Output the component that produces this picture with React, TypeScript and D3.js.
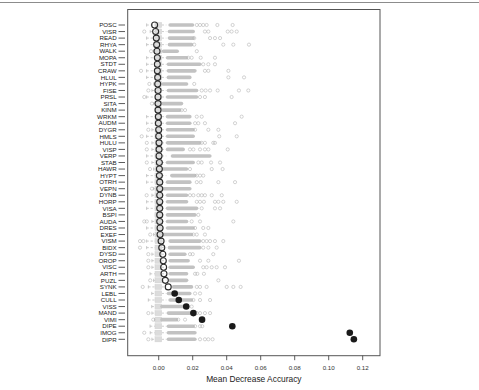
import React from 'react';
import * as d3 from 'd3';

// variable names, top to bottom
const labels = [
  'POSC', 'VISR', 'READ', 'RHYA', 'WALK', 'MOPA', 'STDT', 'CRAW', 'HLUL', 'HYPK',
  'FISE', 'PRSL', 'SITA', 'KINM', 'WRKM', 'AUDM', 'DYGR', 'HMLS', 'HULU', 'VISP',
  'VERP', 'STAB', 'HAWR', 'HYPT', 'OTRH', 'VEPN', 'DYNB', 'HORP', 'VISA', 'BSPI',
  'AUDA', 'DRES', 'EXEF', 'VISM', 'BIDX', 'DYSD', 'OROP', 'VISC', 'ARTH', 'PUZL',
  'SYNK', 'LEBL', 'CULL', 'VISS', 'MAND', 'VIMI', 'DIPE', 'IMOG', 'DIPR',
];

// observed mean decrease accuracy
const meanImp = [
  -0.0024, -0.0018, -0.0014, -0.0012, -0.001, -0.0008, -0.0008, -0.0008, -0.0006, -0.0006,
  -0.0004, -0.0004, -0.0004, -0.0004, -0.0002, -0.0002, 0, 0, 0.0002, 0.0002,
  0.0002, 0.0004, 0.0004, 0.0004, 0.0006, 0.0006, 0.0006, 0.0006, 0.0006, 0.0006,
  0.0006, 0.0008, 0.0008, 0.0014, 0.0018, 0.0024, 0.0027, 0.0029, 0.0031, 0.0039,
  0.0056, 0.0094, 0.0118, 0.0162, 0.0204, 0.0255, 0.0433, 0.1124, 0.1148,
];

// filled dot = significant
const significant = labels.map((_, i) => i >= 41);

// null distribution box (shadow) and whiskers
const boxLo = -0.0022;
const boxHi = 0.0018;
const whiskHi = 0.0045;
const whiskLo = [
  -0.0071, -0.005, -0.0071, -0.0071, -0.003, -0.0071, -0.0071, -0.0071, -0.0071, -0.003,
  -0.004, -0.0071, -0.003, -0.002, -0.0071, -0.0071, -0.004, -0.0071, -0.004, -0.004,
  -0.0071, -0.004, -0.003, -0.0071, -0.0071, -0.003, -0.004, -0.0071, -0.0071, -0.002,
  -0.004, -0.0071, -0.003, -0.0071, -0.0071, -0.004, -0.004, -0.004, -0.0051, -0.003,
  -0.0061, -0.0041, -0.0061, -0.0041, -0.004, -0.0025, -0.0051, -0.005, -0.004,
];

// dense run of outliers, start and end
const bandLo = [
  0.0066, 0.0062, 0.0062, 0.0062, 0.0027, 0.0051, 0.0056, 0.0056, 0.0056, 0.0024,
  0.0056, 0.0051, 0.0024, 0.0024, 0.0051, 0.0051, 0.0051, 0.0051, 0.0051, 0.0051,
  0.008, 0.0051, 0.0027, 0.0076, 0.0051, 0.0027, 0.0051, 0.0051, 0.0051, 0.0051,
  0.0051, 0.0051, 0.0027, 0.0066, 0.0062, 0.0066, 0.0066, 0.0066, 0.0066, 0.0066,
  0.0086, 0.0056, 0.0066, 0.0018, 0.0056, 0.0018, 0.0056, 0.0056, 0.0056,
];
const bandHi = [
  0.02, 0.0204, 0.0204, 0.0194, 0.011, 0.0165, 0.0243, 0.0214, 0.0184, 0.0165,
  0.0224, 0.0224, 0.0135, 0.0125, 0.0184, 0.0184, 0.0204, 0.0204, 0.0243, 0.0145,
  0.0302, 0.0204, 0.0165, 0.0214, 0.0184, 0.0184, 0.0165, 0.0165, 0.0224, 0.0214,
  0.0165, 0.0204, 0.0194, 0.0243, 0.0243, 0.0155, 0.0174, 0.0204, 0.0165, 0.0165,
  0.0194, 0.0184, 0.0194, 0.0155, 0.0184, 0.0106, 0.0204, 0.0214, 0.0214,
];

// scattered outliers
const outliers = [
  [0.0224, 0.0243, 0.0262, 0.0282, 0.0345, 0.0435],
  [-0.0085, 0.0272, 0.0292, 0.0406, 0.0429, 0.0459],
  [0.0209, 0.0302, 0.0331, 0.0361],
  [0.0209, 0.038, 0.0439, 0.0531],
  [-0.0045, 0.0224],
  [0.0174, 0.0194, 0.0247, 0.0331],
  [0.0262, 0.0292, 0.0331],
  [-0.0104, 0.0272, 0.0292, 0.041],
  [0.041, 0.0502],
  [-0.0055, 0.0209],
  [-0.0061, 0.0253, 0.0276, 0.0302, 0.0347, 0.0472, 0.0527],
  [-0.0085, 0.0243, 0.0272, 0.0429],
  [-0.004],
  [0.0135, 0.0155],
  [0.0224, 0.0253, 0.0488],
  [0.0214, 0.0233, 0.0272, 0.0449],
  [-0.0061, 0.0214, 0.0292, 0.0351],
  [-0.01, 0.0356, 0.0459],
  [-0.007, 0.0253, 0.0272, 0.0321, 0.0331],
  [-0.007, 0.0184, 0.0204, 0.0243, 0.0272, 0.0292, 0.0406],
  [],
  [-0.007, 0.0233, 0.0253, 0.0308, 0.0361],
  [-0.0051, 0.0184, 0.0312, 0.0376],
  [0.0224, 0.0243, 0.0262],
  [0.0224, 0.0247, 0.0351, 0.0449],
  [-0.004],
  [-0.0071, 0.0184, 0.0204, 0.0233, 0.0253, 0.0272, 0.0312, 0.0371],
  [0.0224, 0.0243, 0.0266, 0.0331, 0.0351, 0.038, 0.0459],
  [0.0253, 0.0331, 0.0361],
  [0.0233],
  [-0.0085, -0.007, 0.0194, 0.0243, 0.0439],
  [0.0214, 0.0262, 0.0292],
  [-0.005, 0.0204, 0.0224, 0.0272],
  [-0.011, -0.009, 0.0262, 0.0282, 0.0302, 0.0331, 0.038],
  [-0.011, 0.0262, 0.0292, 0.0341],
  [-0.0061, 0.0184, 0.02, 0.0321],
  [-0.0061, 0.0243, 0.0292, 0.0472],
  [-0.0061, 0.0262, 0.0282, 0.0312, 0.0341, 0.039],
  [0.0214, 0.0227, 0.0266],
  [-0.005, 0.0351],
  [-0.0094, 0.0224, 0.0243, 0.0282, 0.04, 0.0439, 0.0482],
  [0.0214, 0.0243],
  [0.0204, 0.0243, 0.0302],
  [0.0194],
  [-0.0061, 0.0224, 0.0243, 0.0272, 0.0302],
  [-0.0032, 0.0115, 0.0155],
  [0.0214, 0.0243, 0.0256],
  [-0.0085],
  [-0.0061, 0.0243, 0.0272, 0.0292, 0.0317],
];

const xTicks = [0, 0.02, 0.04, 0.06, 0.08, 0.1, 0.12];
const xTitle = 'Mean Decrease Accuracy';

const W = 479;
const H = 390;
const plot = { left: 127.7, right: 380, top: 9.5, bottom: 355.7 };
const font = '"Liberation Sans", Arial, Helvetica, sans-serif';

export default function App() {
  const x = d3.scaleLinear().domain([-0.01824, 0.13018]).range([plot.left, plot.right]);
  const y = d3.scalePoint<string>().domain(labels).range([25, 339.3]);
  const fmt = d3.format('.2f');

  return (
    <svg width={W} height={H} style={{ position: 'absolute', left: 0, top: 0 }} fontFamily={font}>
      <rect width={W} height={H} fill="#fff" />
      <line x1={0} x2={W} y1={2.5} y2={2.5} stroke="#8c8c8c" strokeWidth={1} />

      {labels.map((lab, i) => {
        const cy = y(lab)!;
        return (
          <g key={lab}>
            {/* whiskers */}
            <line x1={x(whiskLo[i])} x2={x(boxLo)} y1={cy} y2={cy} stroke="#aaa" strokeWidth={0.6} strokeDasharray="2.2,1.8" />
            <line x1={x(whiskLo[i])} x2={x(whiskLo[i])} y1={cy - 1.6} y2={cy + 1.6} stroke="#aaa" strokeWidth={0.6} />
            <line x1={x(boxHi)} x2={x(whiskHi)} y1={cy} y2={cy} stroke="#aaa" strokeWidth={0.6} strokeDasharray="2.2,1.8" />
            {/* box */}
            <rect x={x(boxLo)} y={cy - 2.6} width={x(boxHi) - x(boxLo)} height={5.2} fill="#dcdcdc" stroke="#d0d0d0" strokeWidth={0.4} />
            {/* dense outliers */}
            <rect x={x(bandLo[i]) - 1.6} y={cy - 1.8} width={x(bandHi[i]) - x(bandLo[i]) + 3.2} height={3.6} rx={1.8} fill="#c2c2c2" />
            {outliers[i].map((v, j) => (
              <circle key={j} cx={x(v)} cy={cy} r={1.6} fill="none" stroke="#b5b5b5" strokeWidth={0.6} />
            ))}
            {/* observed */}
            {significant[i] ? (
              <circle cx={x(meanImp[i])} cy={cy} r={3.3} fill="#1a1a1a" />
            ) : (
              <circle cx={x(meanImp[i])} cy={cy} r={3} fill="none" stroke="#2a2a2a" strokeWidth={1.1} />
            )}
            {/* y axis */}
            <line x1={118.5} x2={125} y1={cy} y2={cy} stroke="#333" strokeWidth={0.8} />
            <text x={116.7} y={cy + 2.2} textAnchor="end" fontSize={6.2} fill="#222">{lab}</text>
          </g>
        );
      })}

      <rect x={plot.left} y={plot.top} width={plot.right - plot.left} height={plot.bottom - plot.top} fill="none" stroke="#555" strokeWidth={1} />

      {xTicks.map(t => (
        <g key={t}>
          <line x1={x(t)} x2={x(t)} y1={plot.bottom} y2={plot.bottom + 4.5} stroke="#333" strokeWidth={0.8} />
          <text x={x(t)} y={370} textAnchor="middle" fontSize={6.2} fill="#333">{fmt(t)}</text>
        </g>
      ))}
      <text x={(plot.left + plot.right) / 2} y={381.5} textAnchor="middle" fontSize={8.4} fill="#222">{xTitle}</text>
    </svg>
  );
}
